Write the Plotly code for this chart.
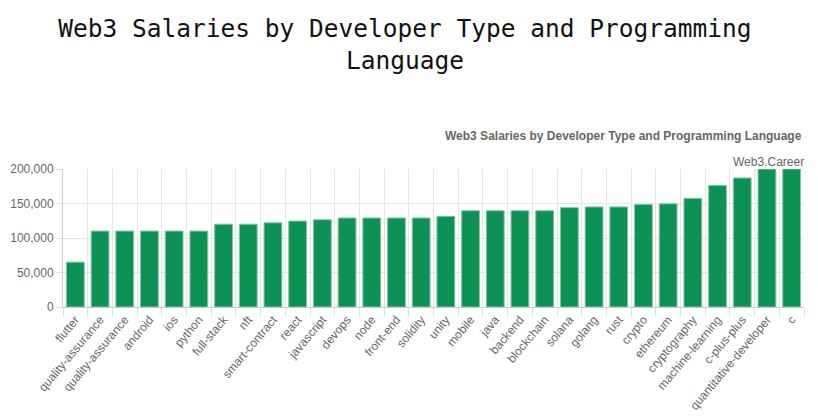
import plotly.graph_objects as go

categories = ["flutter", "quality-assurance", "quality-assurance", "android", "ios", "python",
              "full-stack", "nft", "smart-contract", "react", "javascript", "devops", "node",
              "front-end", "solidity", "unity", "mobile", "java", "backend", "blockchain",
              "solana", "golang", "rust", "crypto", "ethereum", "cryptography",
              "machine-learning", "c-plus-plus", "quantitative-developer", "c"]
salaries = [65000, 110000, 110000, 110000, 110000, 110000,
            120000, 120000, 122000, 124500, 126500, 129000, 129000,
            129000, 129000, 131500, 139500, 139500, 139500, 139500,
            144000, 145000, 145000, 148500, 149500, 157500,
            176000, 187000, 200000, 200000]
y_ticks = [0, 50000, 100000, 150000, 200000]

idx = list(range(len(categories)))

fig = go.Figure(go.Bar(
    x=idx, y=salaries,
    marker=dict(color="#0e9155", line=dict(color="#7cc7a3", width=1)),
    hoverinfo="x+y",
))

W, H = 818, 420
# page body has an 8px margin, so figure coordinates are offset by 8px
left, right, top, bottom = 55, 22, 161, 121
ph = H - top - bottom

fig.update_layout(
    width=W, height=H,
    margin=dict(l=left, r=right, t=top, b=bottom, autoexpand=False),
    paper_bgcolor="white", plot_bgcolor="white",
    bargap=0.28,
    showlegend=False,
    title=dict(
        text="Web3 Salaries by Developer Type and Programming<br>Language",
        font=dict(family="DejaVu Sans Mono, monospace", size=24.5, color="#111111"),
        x=397 / W, xref="container", xanchor="center",
        y=1 - 29 / H, yref="container", yanchor="middle",
    ),
    xaxis=dict(
        range=[-0.5, len(categories) - 0.5],
        tickmode="array", tickvals=idx, ticktext=categories,
        tickangle=-50,
        tickfont=dict(family="Liberation Sans, Arial, sans-serif", size=12, color="#666666"),
        showgrid=False, ticks="", zeroline=False,
        showline=True, linecolor="#c8c8c8", linewidth=1, mirror=False,
        minor=dict(tickmode="linear", tick0=-0.5, dtick=1, showgrid=True,
                   gridcolor="#e5e5e5", gridwidth=1, ticks="outside", ticklen=8,
                   tickcolor="#e0e0e0"),
        fixedrange=True,
    ),
    yaxis=dict(
        range=[0, 200000], tickmode="array", tickvals=y_ticks,
        tickformat=",",
        tickfont=dict(family="Liberation Sans, Arial, sans-serif", size=12, color="#666666"),
        showgrid=True, gridcolor="#e5e5e5", gridwidth=1,
        ticks="outside", ticklen=6, tickcolor="#e0e0e0",
        showline=True, linecolor="#d0d0d0", linewidth=1,
        zeroline=False, fixedrange=True,
    ),
    annotations=[
        dict(text="<b>Web3 Salaries by Developer Type and Programming Language</b>",
             xref="paper", yref="paper", x=1.0, y=1 + (top - 128) / ph,
             xanchor="right", yanchor="middle", showarrow=False,
             font=dict(family="Liberation Sans, Arial, sans-serif", size=12, color="#666666")),
        dict(text="Web3.Career",
             xref="paper", yref="paper", x=1.003, y=1 + (top - 153.5) / ph,
             xanchor="right", yanchor="middle", showarrow=False,
             font=dict(family="Liberation Sans, Arial, sans-serif", size=12, color="#666666")),
    ],
)

fig.write_html("out.html")
